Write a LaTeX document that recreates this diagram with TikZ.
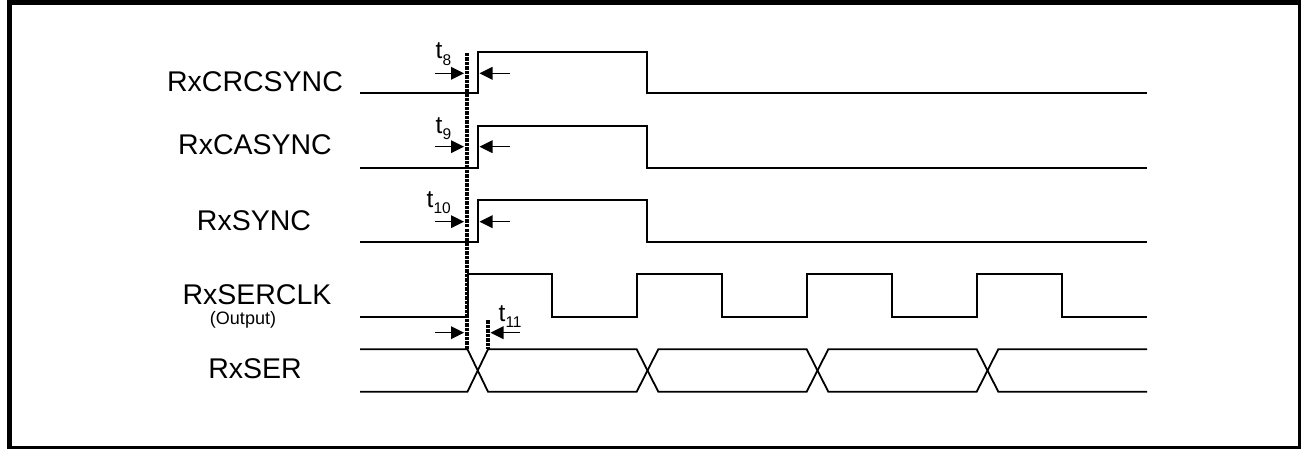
\documentclass[tikz,border=0pt]{standalone}
\usepackage{fontspec}
\setmainfont{Liberation Sans}
\usetikzlibrary{calc}
\newcommand{\tsub}[2]{t\raisebox{#2}{\fontsize{15.5}{15.5}\selectfont #1}}
\begin{document}
\begin{tikzpicture}[x=1pt,y=-1pt,
  sig/.style={line width=1.8pt,line join=miter},
  aline/.style={line width=1.4pt},
  refedge/.style={line width=4pt,dash pattern=on 3.5pt off 1pt},
  lab/.style={font=\fontsize{28.5}{30}\selectfont,anchor=base,inner sep=0pt},
  small/.style={font=\fontsize{18}{20}\selectfont,anchor=base,inner sep=0pt},
  tlab/.style={font=\fontsize{24.5}{26}\selectfont,anchor=base west,inner sep=0pt}]
\useasboundingbox (0,0) rectangle (1301,449);
% frame
\draw[line width=5pt,line cap=rect] (9.5,447) -- (9.5,3) -- (1299,3);
\draw[line width=3pt,line cap=rect] (1299,3) -- (1299,447) -- (9.5,447);
% labels
\node[lab] (crc) at (255,92) {RxCRCSYNC};
\node[lab] (ca) at (255,155) {RxCASYNC};
\node[lab] (sy) at (254,230) {RxSYNC};
\node[lab] (clk) at (257,304.3) {RxSERCLK};
\node[small] (out) at (243,324) {(Output)};
\node[lab] (ser) at (255,378.3) {RxSER};
% waveforms
\draw[sig] (360,93.3) -- (478,93.3) -- (478,51.7) -- (646.7,51.7) -- (646.7,93.3) -- (1147,93.3);
\draw[sig] (360,167.7) -- (478,167.7) -- (478,126) -- (646.7,126) -- (646.7,167.7) -- (1147,167.7);
\draw[sig] (360,242.3) -- (478,242.3) -- (478,200) -- (646.7,200) -- (646.7,242.3) -- (1147,242.3);
\draw[sig] (360,317) -- (467.7,317) -- (467.7,274) -- (551.7,274) -- (551.7,317) -- (636.7,317) -- (636.7,274) -- (721.7,274) -- (721.7,317) -- (806.7,317) -- (806.7,274) -- (892,274) -- (892,317) -- (976.7,317) -- (976.7,274) -- (1061.7,274) -- (1061.7,317) -- (1147,317);
\draw[sig] (360,349.3) -- (467.5,349.3) -- (488,391.7) -- (636.7,391.7) -- (658.3,349.3) -- (806.7,349.3) -- (828.3,391.7) -- (976.7,391.7) -- (998.3,349.3) -- (1147,349.3);
\draw[sig] (360,391.7) -- (467.5,391.7) -- (488,349.3) -- (636.7,349.3) -- (658.3,391.7) -- (806.7,391.7) -- (828.3,349.3) -- (976.7,349.3) -- (998.3,391.7) -- (1147,391.7);
% reference edges
\coordinate (e1t) at (467,53);
\coordinate (e1b) at (467,349.3);
\coordinate (e2t) at (488,320);
\coordinate (e2b) at (488,349.3);
\draw[refedge] (e1t) -- (e1b);
\draw[refedge] (e2t) -- (e2b);
% timing arrows
\foreach \y/\n/\rs/\re in {73.3/a/510/479.5, 146.7/b/510/479.5, 221.7/c/510/479.5, 332.7/d/520/490.5}{
  \coordinate (l\n) at (435,\y);
  \coordinate (lm\n) at (464,\y);
  \coordinate (r\n) at (\rs,\y);
  \coordinate (rm\n) at (\re,\y);
  \draw[aline] (l\n) -- ($(lm\n)+(-10,0)$);
  \fill (lm\n) -- ++(-13,-6.5) -- ++(0,13) -- cycle;
  \draw[aline] (r\n) -- ($(rm\n)+(10,0)$);
  \fill (rm\n) -- ++(13,-6.5) -- ++(0,13) -- cycle;
}
% timing labels
\node[tlab] (t8) at (435.5,59) {\tsub{8}{-6.5pt}};
\node[tlab] (t9) at (435.5,133.5) {\tsub{9}{-6.5pt}};
\node[tlab] (t10) at (426.5,207.3) {\tsub{10}{-6pt}};
\node[tlab] (t11) at (498.5,321.5) {\tsub{11}{-5.5pt}};
\end{tikzpicture}
\end{document}
